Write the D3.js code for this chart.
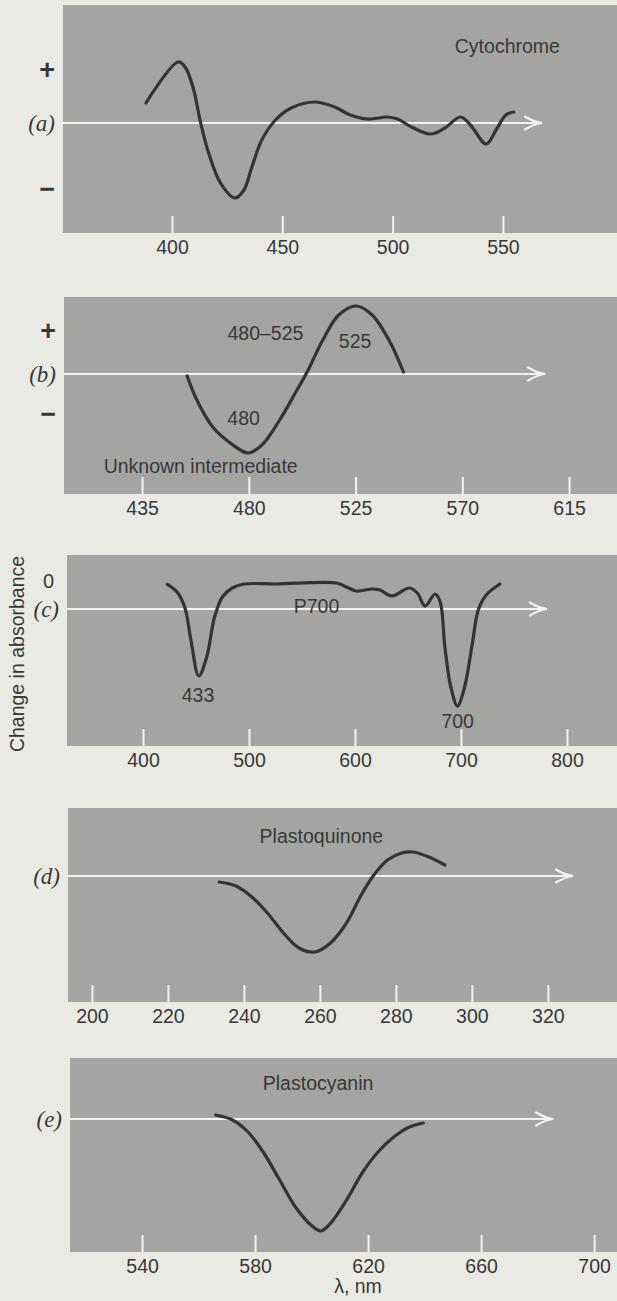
<!DOCTYPE html>
<html>
<head>
<meta charset="utf-8">
<script src="https://cdn.jsdelivr.net/npm/d3@7/dist/d3.min.js"></script>
<style>
  body { margin: 0; background: #eaeae5; }
  svg { display: block; }
  text { font-family: "Liberation Sans", Arial, sans-serif; fill: #383838; }
  .row { font-family: "Liberation Serif", "Times New Roman", serif; font-style: italic; }
</style>
</head>
<body>
<script>
// (a) cytochrome difference spectrum
const cytNm = [388.2, 402.7, 405.9, 409.5, 413, 416.6, 422, 428.5, 432.6, 436.2, 440.7, 446.9, 454, 464.8, 473.7, 480.8, 488.8, 497.7, 502.2, 509.4, 517.4, 523.7, 530.8, 535.3, 542.4, 546.9, 551.3, 554.9];
const cytVal = [2.0, 6.1, 5.6, 3.6, 0, -3.0, -6.0, -7.5, -6.7, -4.4, -1.7, 0.3, 1.5, 2.1, 1.6, 0.8, 0.4, 0.6, 0.4, -0.5, -1.1, -0.5, 0.6, -0.2, -2.1, -0.7, 0.8, 1.1];
// (b) unknown intermediate 480-525
const unkNm = [454, 458.1, 464.8, 472.2, 479.7, 485.5, 493, 499.6, 504.6, 511.2, 517.9, 525.3, 532, 539.5, 545.2];
const unkVal = [-0.2, -2.6, -5.3, -6.9, -7.9, -7.1, -4.6, -1.9, 0.2, 3.4, 5.9, 6.8, 5.9, 3.2, 0.2];
// (c) P700
const p700Nm = [422.9, 432.2, 439.6, 445.2, 452.6, 460.1, 467.5, 474.9, 484.2, 495.3, 525.1, 582.6, 592, 601.2, 616, 623.6, 634.6, 651.3, 658.8, 666.2, 675.5, 680.4, 684.8, 690.4, 696.7, 703.4, 710.8, 716.3, 723.8, 736.8];
const p700Val = [2.47, 1.7, 0.1, -3.1, -6.7, -4.8, -0.8, 1.2, 2.1, 2.5, 2.5, 2.6, 2.2, 1.8, 2.0, 1.9, 1.3, 2.1, 1.6, 0.3, 1.5, 0.7, -3.8, -7.8, -9.7, -7.8, -3.4, -0.1, 1.4, 2.5];
// (d) plastoquinone
const pqNm = [233.5, 237.9, 242.1, 246.2, 250.4, 254.5, 258.7, 262.8, 267, 270.6, 274, 277.8, 281.5, 284.6, 288.7, 292.9];
const pqVal = [-0.6, -1.0, -2.1, -3.7, -5.7, -7.2, -7.6, -6.7, -4.7, -2.1, 0, 1.6, 2.3, 2.4, 1.9, 1.1];
// (e) plastocyanin
const pcNm = [566.1, 572, 577.5, 583.1, 588.7, 594.3, 599.8, 603.3, 606.8, 612.4, 617.9, 623.5, 629.1, 634.7, 639.5];
const pcVal = [0.4, -0.1, -1.3, -3.4, -6.1, -8.8, -10.6, -11.2, -10.4, -8.1, -5.4, -3.3, -1.8, -0.8, -0.4];

const ticksA = [400, 450, 500, 550];
const ticksB = [435, 480, 525, 570, 615];
const ticksC = [400, 500, 600, 700, 800];
const ticksD = [200, 220, 240, 260, 280, 300, 320];
const ticksE = [540, 580, 620, 660, 700];

const width = 617, height = 1301;

const panels = [
  {row: "(a)", nm: cytNm, val: cytVal, ticks: ticksA, top: 5, bottom: 233, left: 63, xDom: [350.6, 601.7], yDom: [-11, 11.8], arrow: 567.7,
   ylab: [[5.3, "+"], [-6.6, "−"]],
   notes: [[552, 7.7, "Cytochrome"]]},
  {row: "(b)", nm: unkNm, val: unkVal, ticks: ticksB, top: 297, bottom: 494, left: 64, xDom: [402.1, 635.2], yDom: [-12, 7.7], arrow: 604.9,
   ylab: [[4.3, "+"], [-4.0, "−"]],
   notes: [[487, 4.1, "480–525"], [524.8, 3.3, "525"], [477.8, -4.4, "480"], [459.7, -9.2, "Unknown intermediate"]]},
  {row: "(c)", nm: p700Nm, val: p700Val, ticks: ticksC, top: 555, bottom: 746, left: 67, xDom: [328.3, 847.2], yDom: [-13.7, 5.4], arrow: 781.1,
   ylab: [[2.8, "0"]],
   notes: [[563.7, 0.3, "P700"], [451.9, -8.6, "433"], [696.9, -11.2, "700"]]},
  {row: "(d)", nm: pqNm, val: pqVal, ticks: ticksD, top: 808, bottom: 1002, left: 68, xDom: [193.7, 338.2], yDom: [-12.6, 6.8], arrow: 326.6,
   ylab: [],
   notes: [[260.4, 4.0, "Plastoquinone"]]},
  {row: "(e)", nm: pcNm, val: pcVal, ticks: ticksE, top: 1058, bottom: 1252, left: 70, xDom: [514.5, 708.1], yDom: [-13.3, 6.1], arrow: 685.5,
   ylab: [],
   notes: [[602.3, 3.6, "Plastocyanin"]]}
];

const svg = d3.select("body").append("svg")
  .attr("width", width)
  .attr("height", height);

panels.forEach(function(p){
  const x = d3.scaleLinear().domain(p.xDom).range([p.left, width]);
  const y = d3.scaleLinear().domain(p.yDom).range([p.bottom, p.top]);
  const g = svg.append("g");

  g.append("rect")
    .attr("x", p.left).attr("y", p.top)
    .attr("width", width - p.left).attr("height", p.bottom - p.top)
    .attr("fill", "#a4a4a2");

  const axis = d3.axisBottom(x)
    .tickValues(p.ticks)
    .tickFormat(d3.format("d"))
    .tickSizeInner(-17)
    .tickSizeOuter(0)
    .tickPadding(7);

  const ax = g.append("g")
    .attr("transform", `translate(0, ${p.bottom})`)
    .call(axis);
  ax.select(".domain").remove();
  ax.selectAll(".tick line").attr("stroke", "#f2f2ee").attr("stroke-width", 2);
  ax.selectAll(".tick text").attr("fill", "#383838").style("font-size", "19.5px")
    .style("font-family", "'Liberation Sans', Arial, sans-serif");

  // zero line with arrow
  const y0 = y(0), xe = x(p.arrow);
  g.append("line")
    .attr("x1", p.left).attr("x2", xe - 2)
    .attr("y1", y0).attr("y2", y0)
    .attr("stroke", "#f2f2ee").attr("stroke-width", 2.2);
  g.append("path")
    .attr("d", `M${xe - 17},${y0 - 6.5} Q${xe - 8},${y0 - 1} ${xe},${y0} Q${xe - 8},${y0 + 1} ${xe - 17},${y0 + 6.5}`)
    .attr("fill", "none").attr("stroke", "#f2f2ee").attr("stroke-width", 2.2)
    .attr("stroke-linecap", "round");

  // spectrum
  const line = d3.line()
    .x((d, i) => x(p.nm[i]))
    .y((d, i) => y(p.val[i]))
    .curve(d3.curveCatmullRom.alpha(0.5));
  g.append("path")
    .datum(p.nm)
    .attr("d", line)
    .attr("fill", "none")
    .attr("stroke", "#333333")
    .attr("stroke-width", 3.2)
    .attr("stroke-linecap", "round");

  // row label
  g.append("text")
    .attr("class", "row")
    .attr("x", p.left - 8).attr("y", y0)
    .attr("text-anchor", "end")
    .attr("dominant-baseline", "central")
    .style("font-size", "23px")
    .text(p.row);

  p.ylab.forEach(function(l){
    const isZero = l[1] === "0";
    g.append("text")
      .attr("x", isZero ? p.left - 13 : p.left - 8)
      .attr("y", y(l[0]))
      .attr("text-anchor", "end")
      .attr("dominant-baseline", "central")
      .style("font-size", isZero ? "20px" : "27px")
      .style("font-weight", isZero ? "normal" : "bold")
      .text(l[1]);
  });

  p.notes.forEach(function(n){
    g.append("text")
      .attr("x", x(n[0])).attr("y", y(n[1]))
      .attr("text-anchor", "middle")
      .attr("dominant-baseline", "central")
      .style("font-size", "19.5px")
      .text(n[2]);
  });
});

svg.append("text")
  .attr("transform", "translate(17, 654) rotate(-90)")
  .attr("text-anchor", "middle")
  .attr("dominant-baseline", "central")
  .style("font-size", "19.5px")
  .text("Change in absorbance");

svg.append("text")
  .attr("x", 358).attr("y", 1286)
  .attr("text-anchor", "middle")
  .attr("dominant-baseline", "central")
  .style("font-size", "19.5px")
  .text("λ, nm");
</script>
</body>
</html>
